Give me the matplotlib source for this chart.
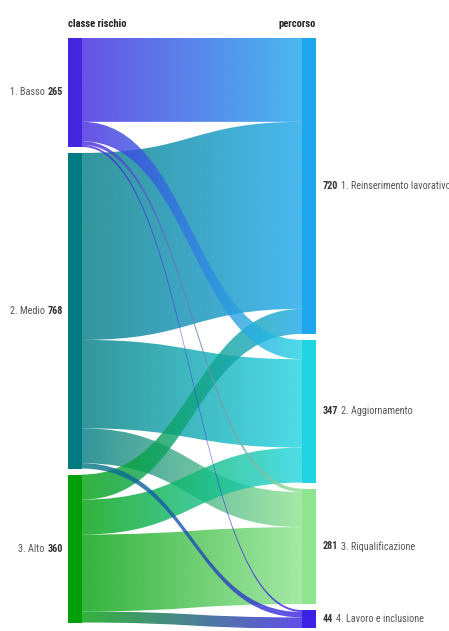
import numpy as np
import matplotlib
matplotlib.use("Agg")
import matplotlib.pyplot as plt
from matplotlib.path import Path
from matplotlib.patches import Rectangle
from matplotlib.colors import to_rgb
from matplotlib import font_manager

# ---- data -------------------------------------------------------------
sources = ["1. Basso", "2. Medio", "3. Alto"]
source_totals = [265, 768, 360]
targets = ["1. Reinserimento lavorativo", "2. Aggiornamento",
           "3. Riqualificazione", "4. Lavoro e inclusione"]
target_totals = [720, 347, 281, 44]

# flows from each risk class to each path (same order as targets)
flow_basso = [204, 47, 9, 5]
flow_medio = [455, 215, 85, 13]
flow_alto = [61, 85, 187, 27]
flows = [flow_basso, flow_medio, flow_alto]

source_colors = ["#4327e0", "#007b82", "#00a00c"]
target_colors = ["#1ca7ec", "#20d4e2", "#8ee48f", "#3b22e4"]

left_title = "classe rischio"
right_title = "percorso"

# ---- fonts ------------------------------------------------------------
available = {f.name for f in font_manager.fontManager.ttflist}
family = "DejaVu Sans"
for cand in ["Roboto Condensed", "Liberation Sans Narrow", "Open Sans Condensed",
             "Roboto", "Lato"]:
    if cand in available:
        family = cand
        break
plt.rcParams["font.family"] = [family, "DejaVu Sans"]

# ---- layout -----------------------------------------------------------
W, H, DPI = 449, 631, 100
fig = plt.figure(figsize=(W / DPI, H / DPI), dpi=DPI)
top_px, bottom_px, left_px, right_px = 38, 628, 68, 316
ax = fig.add_axes([left_px / W, (H - bottom_px) / H,
                   (right_px - left_px) / W, (bottom_px - top_px) / H])

px_per_unit = 0.411
ymax = (bottom_px - top_px) / px_per_unit
gap = 6 / px_per_unit
node_w = 14 / (right_px - left_px)
alpha = 0.8


def stack(totals):
    tops, y = [], 0.0
    for t in totals:
        tops.append(y)
        y += t + gap
    return tops


src_tops = stack(source_totals)
tgt_tops = stack(target_totals)

# at each source the links are stacked in target order
src_off = list(src_tops)
links = []
for i in range(len(sources)):
    for j in range(len(targets)):
        v = flows[i][j]
        links.append((v, i, j, src_off[i]))
        src_off[i] += v

# at each target the links are stacked in source order
tgt_off = list(tgt_tops)
arrive = {}
for j in range(len(targets)):
    for i in range(len(sources)):
        arrive[(i, j)] = tgt_off[j]
        tgt_off[j] += flows[i][j]

x0, x1 = node_w, 1 - node_w
xm = (x0 + x1) / 2


def band_path(ys0, ys1, v):
    verts = [(x0, ys0), (xm, ys0), (xm, ys1), (x1, ys1),
             (x1, ys1 + v), (xm, ys1 + v), (xm, ys0 + v), (x0, ys0 + v),
             (x0, ys0)]
    codes = [Path.MOVETO, Path.CURVE4, Path.CURVE4, Path.CURVE4,
             Path.LINETO, Path.CURVE4, Path.CURVE4, Path.CURVE4,
             Path.CLOSEPOLY]
    return Path(verts, codes)


g = np.linspace(0, 1, 512)[:, None]
order = sorted(links, key=lambda l: -l[0])
for z, (v, i, j, ys0) in enumerate(order):
    ys1 = arrive[(i, j)]
    c0 = np.array(to_rgb(source_colors[i]))
    c1 = np.array(to_rgb(target_colors[j]))
    rgb = (1 - g) * c0 + g * c1
    img = np.concatenate([rgb, np.full((512, 1), alpha)], axis=1)[None, :, :]
    im = ax.imshow(img, extent=(x0, x1, ymax, 0), aspect="auto",
                   interpolation="bilinear", zorder=2 + z * 0.01)
    im.set_clip_path(band_path(ys0, ys1, v), transform=ax.transData)

for i, t in enumerate(source_totals):
    ax.add_patch(Rectangle((0, src_tops[i]), node_w, t,
                           facecolor=source_colors[i], edgecolor="none", zorder=5))
for j, t in enumerate(target_totals):
    ax.add_patch(Rectangle((1 - node_w, tgt_tops[j]), node_w, t,
                           facecolor=target_colors[j], edgecolor="none", zorder=5))

ax.set_xlim(0, 1)
ax.set_ylim(ymax, 0)
ax.axis("off")

# ---- labels -----------------------------------------------------------
fs = 7.3
fs_title = 7.7
num_color = "#333333"
name_color = "#555555"
lx = -5 / (right_px - left_px)
rx = 1 + 7 / (right_px - left_px)

for i, name in enumerate(sources):
    yc = src_tops[i] + source_totals[i] / 2
    num = ax.text(lx, yc, str(source_totals[i]), ha="right", va="center",
                  fontsize=fs, fontweight="bold", color=num_color, clip_on=False)
    ax.annotate(name, xy=(0, 0.5), xycoords=num, xytext=(-2.0, 0),
                textcoords="offset points", ha="right", va="center",
                fontsize=fs, color=name_color)

for j, name in enumerate(targets):
    yc = tgt_tops[j] + target_totals[j] / 2
    num = ax.text(rx, yc, str(target_totals[j]), ha="left", va="center",
                  fontsize=fs, fontweight="bold", color=num_color, clip_on=False)
    ax.annotate(name, xy=(1, 0.5), xycoords=num, xytext=(2.0, 0),
                textcoords="offset points", ha="left", va="center",
                fontsize=fs, color=name_color, annotation_clip=False)

ty = -14 / px_per_unit
ax.text(0, ty, left_title, ha="left", va="center", fontsize=fs_title,
        fontweight="bold", color="#222222", clip_on=False)
ax.text(1, ty, right_title, ha="right", va="center", fontsize=fs_title,
        fontweight="bold", color="#222222", clip_on=False)

fig.savefig("out.png", dpi=DPI, facecolor="white")
